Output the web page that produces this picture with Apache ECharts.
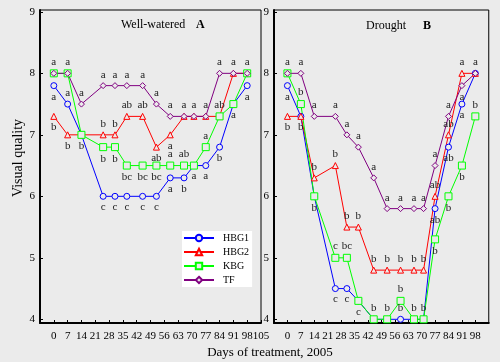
<!DOCTYPE html>
<html>
<head>
<meta charset="utf-8">
<script src="https://cdn.jsdelivr.net/npm/echarts@6.0.0/dist/echarts.min.js"></script>
<style>
html, body { margin: 0; padding: 0; background: #ebebeb; }
#chart { width: 500px; height: 362px; }
</style>
</head>
<body>
<div id="chart"></div>
<script>
// sampling days (same for both panels)
const days = [0, 7, 14, 25, 31, 37, 45, 52, 59, 66, 71, 77, 84, 91, 98];
const yTicks = [4, 5, 6, 7, 8, 9];

// panel A - well-watered
const hbg1A = [7.8, 7.5, 7.0, 6.0, 6.0, 6.0, 6.0, 6.0, 6.3, 6.3, 6.5, 6.5, 6.8, 7.5, 7.8];
const hbg2A = [7.3, 7.0, 7.0, 7.0, 7.0, 7.3, 7.3, 6.8, 7.0, 7.3, 7.3, 7.3, 7.3, 8.0, 8.0];
const kbgA = [8.0, 8.0, 7.0, 6.8, 6.8, 6.5, 6.5, 6.5, 6.5, 6.5, 6.5, 6.8, 7.3, 7.5, 8.0];
const tfA = [8.0, 8.0, 7.5, 7.8, 7.8, 7.8, 7.8, 7.5, 7.3, 7.3, 7.3, 7.3, 8.0, 8.0, 8.0];

// panel B - drought
const hbg1B = [7.8, 7.3, 6.0, 4.5, 4.5, 4.3, 4.0, 4.0, 4.0, 4.0, 4.0, 5.8, 6.8, 7.5, 8.0];
const hbg2B = [7.3, 7.3, 6.3, 6.5, 5.5, 5.5, 4.8, 4.8, 4.8, 4.8, 4.8, 6.0, 7.0, 8.0, 8.0];
const kbgB = [8.0, 7.5, 6.0, 5.0, 5.0, 4.3, 4.0, 4.0, 4.3, 4.0, 4.0, 5.3, 6.0, 6.5, 7.3];
const tfB = [8.0, 8.0, 7.3, 7.3, 7.0, 6.8, 6.3, 5.8, 5.8, 5.8, 5.8, 6.5, 7.3, 7.8, 8.0];

// significance letters (above / below the point)
const hbg1AUp = ['', 'a', '', '', '', '', '', '', '', '', '', '', '', '', ''];
const hbg1ADn = ['a', '', '', 'c', 'c', 'c', 'c', 'c', 'a', 'b', 'a', 'a', 'b', 'a', 'a'];
const hbg2AUp = ['', '', '', 'b', 'b', 'ab', 'ab', '', '', '', '', '', '', '', ''];
const hbg2ADn = ['b', 'b', '', '', '', '', '', 'ab', 'a', '', '', '', '', '', ''];
const kbgAUp = ['', '', '', '', '', '', '', '', 'a', 'ab', '', 'a', 'ab', '', ''];
const kbgADn = ['', '', 'b', 'b', 'b', 'bc', 'bc', 'bc', '', '', '', '', '', '', ''];
const tfAUp = ['a', 'a', 'a', 'a', 'a', 'a', 'a', 'a', 'a', 'a', 'a', 'a', 'a', 'a', 'a'];
const tfADn = ['', '', '', '', '', '', '', '', '', '', '', '', '', '', ''];

const hbg1BUp = ['', '', '', '', '', '', '', '', 'b', '', '', '', '', '', ''];
const hbg1BDn = ['a', '', '', 'c', 'c', '', '', '', '', '', '', 'ab', 'ab', 'a', ''];
const hbg2BUp = ['', '', 'b', 'b', 'b', 'b', 'b', 'b', 'b', 'b', 'b', 'ab', 'ab', 'a', ''];
const hbg2BDn = ['b', 'b', '', '', '', '', '', '', '', '', '', '', '', '', ''];
const kbgBUp = ['', 'b', '', 'c', 'bc', '', 'b', 'b', 'b', 'b', 'b', '', '', '', 'b'];
const kbgBDn = ['', '', 'b', '', '', 'c', '', '', '', '', '', 'b', 'b', 'b', ''];
const tfBUp = ['a', 'a', 'a', 'a', 'a', 'a', 'a', 'a', 'a', 'a', 'a', 'a', 'a', '', 'a'];
const tfBDn = ['', '', '', '', '', '', '', '', '', '', '', '', '', 'a', ''];

const BG = "#ebebeb";
const FONT = "'Liberation Serif', 'DejaVu Serif', serif";

const chart = echarts.init(document.getElementById("chart"));

function makeSeries(name, panel, values, up, dn, symbol, size, color) {
  return {
    name: name,
    type: "line",
    xAxisIndex: panel,
    yAxisIndex: panel,
    symbol: symbol,
    symbolSize: size,
    showAllSymbol: true,
    color: color,
    lineStyle: { color: color, width: 1 },
    itemStyle: { color: BG, borderColor: color, borderWidth: 1 },
    emphasis: { disabled: true },
    data: values.map((v, i) => {
      const item = { value: [days[i], v] };
      const txt = up[i] || dn[i];
      if (txt) {
        item.label = {
          show: true,
          position: up[i] ? "top" : "bottom",
          distance: 2,
          formatter: txt,
          color: "#222",
          fontFamily: FONT,
          fontSize: 11,
        };
      }
      return item;
    }),
  };
}

function xAxisOf(idx) {
  return {
    gridIndex: idx,
    type: "value",
    min: -7,
    max: 105,
    interval: 7,
    axisLine: { show: true, onZero: false, lineStyle: { color: "#000", width: 2 } },
    axisTick: { show: true, inside: true, length: 3, lineStyle: { color: "#000" } },
    axisLabel: {
      color: "#000",
      fontFamily: FONT,
      fontSize: 11,
      margin: 8,
      formatter: (v) => (v < 0 ? "" : String(v)),
    },
    splitLine: { show: false },
  };
}

function yAxisOf(idx) {
  return {
    gridIndex: idx,
    type: "value",
    min: 3.94,
    max: 9.03,
    axisLine: { show: true, onZero: false, lineStyle: { color: "#000", width: 2 } },
    axisTick: { show: true, inside: true, length: 3, customValues: yTicks, lineStyle: { color: "#000" } },
    axisLabel: { color: "#000", fontFamily: FONT, fontSize: 11, margin: 5, customValues: yTicks },
    splitLine: { show: false },
  };
}

const option = {
  backgroundColor: BG,
  animation: false,
  grid: [
    { left: 40, right: 239, top: 10, bottom: 39, show: true, borderColor: "#000", borderWidth: 1, backgroundColor: "transparent" },
    { left: 274, right: 6, top: 10, bottom: 39, show: true, borderColor: "#000", borderWidth: 1, backgroundColor: "transparent" },
  ],
  xAxis: [xAxisOf(0), xAxisOf(1)],
  yAxis: [yAxisOf(0), yAxisOf(1)],
  legend: {
    data: ["HBG1", "HBG2", "KBG", "TF"],
    orient: "vertical",
    left: 182,
    top: 231,
    itemWidth: 30,
    itemHeight: 8,
    itemGap: 2,
    backgroundColor: "#fff",
    padding: [1, 3, 1, 1],
    lineStyle: { width: 2 },
    textStyle: { color: "#000", fontFamily: FONT, fontSize: 10, lineHeight: 12, padding: [0, 0, 0, 4] },
  },
  graphic: [
    { type: "text", left: 121, top: 19, style: { text: "Well-watered", font: "12px " + FONT, fill: "#000" } },
    { type: "text", left: 196, top: 19, style: { text: "A", font: "bold 12px " + FONT, fill: "#000" } },
    { type: "text", left: 366, top: 20, style: { text: "Drought", font: "12px " + FONT, fill: "#000" } },
    { type: "text", left: 423, top: 20, style: { text: "B", font: "bold 12px " + FONT, fill: "#000" } },
    {
      type: "text", x: 18, y: 158, rotation: Math.PI / 2,
      style: { text: "Visual quality", font: "14px " + FONT, fill: "#000", align: "center", verticalAlign: "middle" },
    },
    {
      type: "text", x: 270, y: 353,
      style: { text: "Days of treatment, 2005", font: "13px " + FONT, fill: "#000", align: "center", verticalAlign: "middle" },
    },
  ],
  series: [
    makeSeries("HBG1", 0, hbg1A, hbg1AUp, hbg1ADn, "circle", 6, "#0000ff"),
    makeSeries("HBG2", 0, hbg2A, hbg2AUp, hbg2ADn, "triangle", 6, "#ff0000"),
    makeSeries("KBG", 0, kbgA, kbgAUp, kbgADn, "rect", 7, "#00ff00"),
    makeSeries("TF", 0, tfA, tfAUp, tfADn, "diamond", 6, "#800080"),
    makeSeries("HBG1", 1, hbg1B, hbg1BUp, hbg1BDn, "circle", 6, "#0000ff"),
    makeSeries("HBG2", 1, hbg2B, hbg2BUp, hbg2BDn, "triangle", 6, "#ff0000"),
    makeSeries("KBG", 1, kbgB, kbgBUp, kbgBDn, "rect", 7, "#00ff00"),
    makeSeries("TF", 1, tfB, tfBUp, tfBDn, "diamond", 6, "#800080"),
  ],
};

chart.setOption(option);
</script>
</body>
</html>
